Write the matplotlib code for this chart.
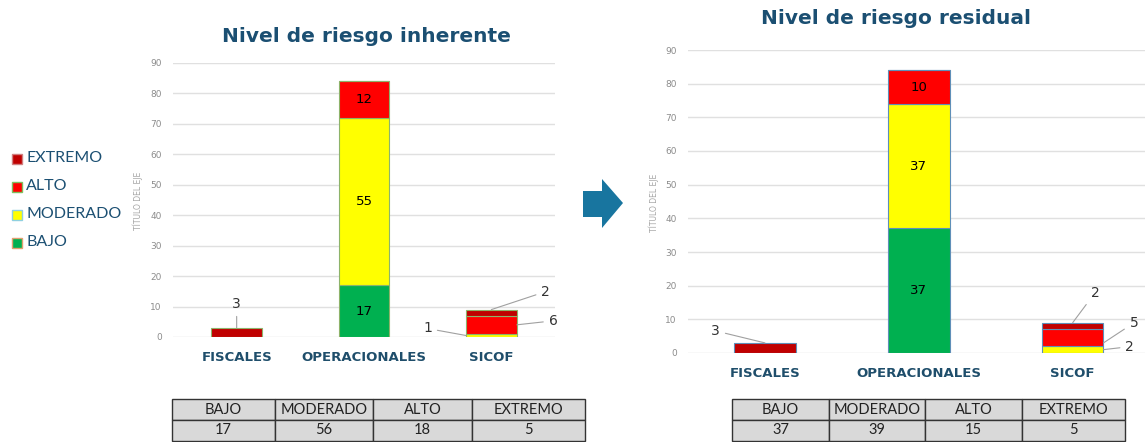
import matplotlib
matplotlib.use("Agg")
import matplotlib.pyplot as plt
from matplotlib.patches import Rectangle, Polygon
import numpy as np

W, H = 1145, 442

categories = ["FISCALES", "OPERACIONALES", "SICOF"]
levels = ["BAJO", "MODERADO", "ALTO", "EXTREMO"]
level_colors = ["#00B050", "#FFFF00", "#FF0000", "#C00000"]

# Inherent risk (per category, stacked by level)
inh_bajo = [0, 17, 0]
inh_moderado = [0, 55, 1]
inh_alto = [0, 12, 6]
inh_extremo = [3, 0, 2]
inh_totals = [17, 56, 18, 5]

# Residual risk
res_bajo = [0, 37, 0]
res_moderado = [0, 37, 2]
res_alto = [0, 10, 5]
res_extremo = [3, 0, 2]
res_totals = [37, 39, 15, 5]

TITLE_C = "#1B4F72"
CAT_C = "#1F4E6B"


def fx(px):
    return px / W


def fy(py):
    return 1 - py / H


def add_ax(x0, y0, x1, y1):
    return fig.add_axes([fx(x0), fy(y1), fx(x1) - fx(x0), fy(y0) - fy(y1)])


fig = plt.figure(figsize=(W / 100, H / 100), dpi=100)
fig.patch.set_facecolor("white")


def draw_chart(ax, series, edge, xmax):
    x = np.arange(len(categories))
    bottom = np.zeros(len(categories))
    for vals, col in zip(series, level_colors):
        v = np.array(vals, dtype=float)
        ax.bar(x, v, 0.4, bottom=bottom, color=col, edgecolor=edge,
               linewidth=0.8, zorder=3)
        bottom += v
    ax.set_ylim(0, 90)
    ax.set_xlim(-0.5, xmax)
    ax.set_yticks(range(0, 91, 10))
    ax.yaxis.grid(True, color="#E0E0E0", linewidth=1, zorder=0)
    ax.set_axisbelow(True)
    for s in ax.spines.values():
        s.set_visible(False)
    ax.tick_params(axis="y", length=0, pad=8, labelsize=6.5, labelcolor="#8C8C8C")
    ax.tick_params(axis="x", length=0, pad=10)
    ax.set_xticks(x)
    ax.set_xticklabels(categories, fontsize=9.5, fontweight="bold", color=CAT_C)
    ax.set_facecolor("white")
    return x


# ---------- Left chart ----------
axL = add_ax(173, 63, 555, 337)
inh_series = [inh_bajo, inh_moderado, inh_alto, inh_extremo]
xL = draw_chart(axL, inh_series, "#8DB36B", 2.5)

# inside labels
cum = np.zeros(3)
for vals in inh_series:
    for i, v in enumerate(vals):
        if i == 1 and v > 0:
            axL.text(xL[i], cum[i] + v / 2, str(v), ha="center", va="center",
                     fontsize=9.5, color="black", zorder=5)
    cum += np.array(vals)

ann_kw = dict(fontsize=10, color="#333333", zorder=6,
              arrowprops=dict(arrowstyle="-", color="#A0A0A0", lw=0.8,
                              shrinkA=2, shrinkB=0))
# FISCALES 3
axL.annotate(str(inh_extremo[0]), xy=(xL[0], inh_extremo[0]), xytext=(0, 17),
             textcoords="offset pixels", ha="center", va="bottom", **ann_kw)
# SICOF labels
s_top = inh_moderado[2] + inh_alto[2] + inh_extremo[2]
axL.annotate(str(inh_extremo[2]), xy=(xL[2], s_top), xytext=(50, 18),
             textcoords="offset pixels", ha="left", va="center", **ann_kw)
axL.annotate(str(inh_alto[2]), xy=(xL[2] + 0.2, inh_moderado[2] + inh_alto[2] / 2),
             xytext=(32, 4), textcoords="offset pixels", ha="left", va="center", **ann_kw)
axL.annotate(str(inh_moderado[2]), xy=(xL[2] - 0.2, inh_moderado[2] / 2),
             xytext=(-34, 7), textcoords="offset pixels", ha="right", va="center", **ann_kw)

fig.text(fx(138), fy(201), "TÍTULO DEL EJE", rotation=90, ha="center", va="center",
         fontsize=5.5, color="#A6A6A6")
fig.text(fx(366), fy(37), "Nivel de riesgo inherente", ha="center", va="center",
         fontsize=14.5, fontweight="bold", color=TITLE_C)

# ---------- Right chart ----------
axR = add_ax(688, 50, 1145, 353)
res_series = [res_bajo, res_moderado, res_alto, res_extremo]
xR = draw_chart(axR, res_series, "#5F8FB8", 2.47)

cum = np.zeros(3)
for vals in res_series:
    for i, v in enumerate(vals):
        if i == 1 and v > 0:
            axR.text(xR[i], cum[i] + v / 2, str(v), ha="center", va="center",
                     fontsize=9.5, color="black", zorder=5)
    cum += np.array(vals)

axR.annotate(str(res_extremo[0]), xy=(xR[0], res_extremo[0]), xytext=(-45, 12),
             textcoords="offset pixels", ha="right", va="center", **ann_kw)
s_top = res_moderado[2] + res_alto[2] + res_extremo[2]
axR.annotate(str(res_extremo[2]), xy=(xR[2], s_top), xytext=(18, 30),
             textcoords="offset pixels", ha="left", va="center", **ann_kw)
axR.annotate(str(res_alto[2]), xy=(xR[2] + 0.2, res_moderado[2] + res_alto[2] * 0.2),
             xytext=(26, 20), textcoords="offset pixels", ha="left", va="center", **ann_kw)
axR.annotate(str(res_moderado[2]), xy=(xR[2] + 0.2, res_moderado[2] / 2),
             xytext=(22, 3), textcoords="offset pixels", ha="left", va="center", **ann_kw)

fig.text(fx(654), fy(203), "TÍTULO DEL EJE", rotation=90, ha="center", va="center",
         fontsize=5.5, color="#A6A6A6")
fig.text(fx(896), fy(18), "Nivel de riesgo residual", ha="center", va="center",
         fontsize=14.5, fontweight="bold", color=TITLE_C)

# ---------- Legend ----------
leg_y = [158, 186, 214, 242]
leg_borders = ["#E0A070", "#8FD0E0", "#7FBF5F", "#D08080"]
for lvl, col, bc, y in zip(levels[::-1], level_colors[::-1], leg_borders[::-1], leg_y):
    fig.patches.append(Rectangle((fx(12), fy(y + 6)), fx(10), fy(0) - fy(10),
                                 transform=fig.transFigure, facecolor=col,
                                 edgecolor=bc, linewidth=1))
    fig.text(fx(26), fy(y), lvl, ha="left", va="center", fontsize=11.5,
             color=TITLE_C, family="Lato")

# ---------- Arrow ----------
arrow_px = [(583, 191), (602, 191), (602, 179), (623, 203), (602, 228), (602, 217), (583, 217)]
fig.patches.append(Polygon([(fx(a), fy(b)) for a, b in arrow_px], closed=True,
                           transform=fig.transFigure, facecolor="#18759F",
                           edgecolor="none"))


# ---------- Tables ----------
def draw_table(x_edges, y0, y1, y2, header, values):
    for r, (ya, yb, row) in enumerate([(y0, y1, header), (y1, y2, values)]):
        for c in range(len(row)):
            xa, xb = x_edges[c], x_edges[c + 1]
            fig.patches.append(Rectangle((fx(xa), fy(yb)), fx(xb) - fx(xa), fy(ya) - fy(yb),
                                         transform=fig.transFigure, facecolor="#D9D9D9",
                                         edgecolor="#333333", linewidth=1))
            fig.text(fx((xa + xb) / 2), fy((ya + yb) / 2), str(row[c]), ha="center",
                     va="center", fontsize=10.5, color="#222222", family="Lato")


draw_table([172, 275, 373, 472, 585], 399, 420, 441, levels, inh_totals)
draw_table([732, 829, 925, 1022, 1125], 399, 420, 441, levels, res_totals)

fig.savefig("out.png", dpi=100, facecolor="white")
